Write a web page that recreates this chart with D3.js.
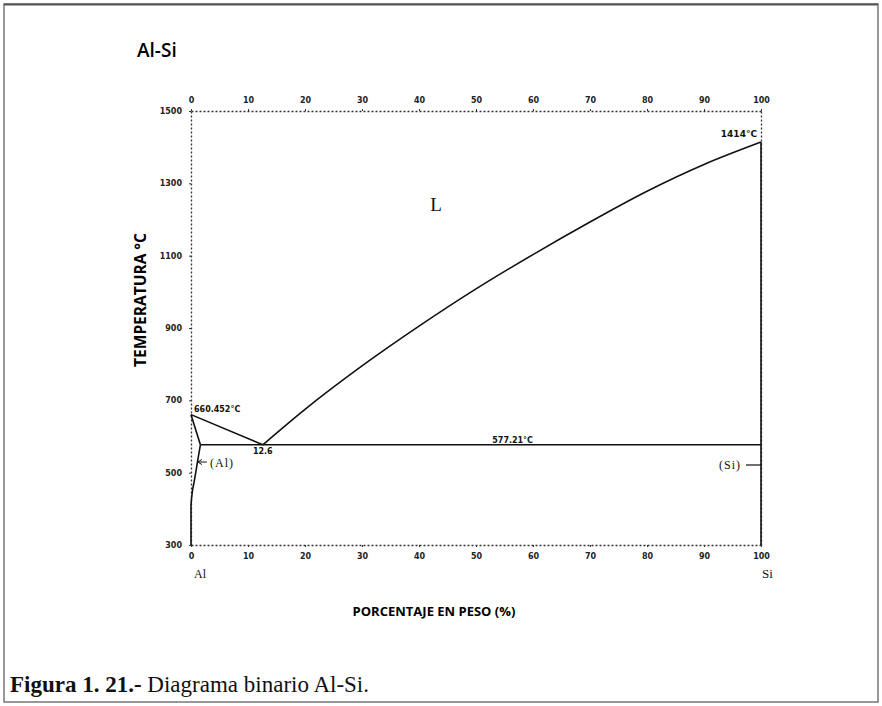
<!DOCTYPE html>
<html>
<head>
<meta charset="utf-8">
<script src="https://cdn.jsdelivr.net/npm/d3@7"></script>
<style>
body { margin: 0; background: #fff; }
svg { display: block; }
.tk text { font-family: "DejaVu Sans", sans-serif; font-size: 8px; font-weight: bold; fill: #222; }
.lab { font-family: "Liberation Serif", serif; fill: #111; }
</style>
</head>
<body>
<svg width="882" height="706"></svg>
<script>
// Al-Si binary phase diagram
var xTicks = [0, 10, 20, 30, 40, 50, 60, 70, 80, 90, 100];
var yTicks = [300, 500, 700, 900, 1100, 1300, 1500];

// liquidus, Si side (wt% Si, degC)
var liquidusSi = [[12.6, 577], [20, 675], [30, 795], [40, 905], [50, 1008],
	[60, 1103], [70, 1193], [80, 1278], [90, 1352], [100, 1414]];
// liquidus, Al side
var liquidusAl = [[0, 660.452], [12.6, 577]];
// solidus of (Al)
var solidusAl = [[0, 660.452], [1.65, 577]];
// solvus of (Al)
var solvusAl = [[1.65, 577], [1.3, 545], [0.9, 507], [0.5, 470], [0.3, 455], [0.1, 430], [0, 410], [0, 300]];
// eutectic isotherm
var eutectic = [[1.65, 577], [100, 577]];
// pure Si line
var siLine = [[100, 1414], [100, 300]];

var notes = [
	{ text: '1414°C', x: 100, t: 1414, dx: -4, dy: -5, anchor: 'end', size: 9 },
	{ text: '660.452°C', x: 0, t: 660.452, dx: 3, dy: -3, anchor: 'start', size: 8 },
	{ text: '12.6', x: 12.6, t: 577, dx: 0, dy: 9, anchor: 'middle', size: 8 },
	{ text: '577.21°C', x: 60, t: 577, dx: 0, dy: -2, anchor: 'end', size: 8 }
];

var svg = d3.select('svg');

// frame
svg.append('rect')
	.attr('x', 4).attr('y', 4).attr('width', 874).attr('height', 698)
	.style('fill', 'none').style('stroke', '#777').style('stroke-width', 1.5);
svg.append('line')
	.attr('x1', 4).attr('x2', 878).attr('y1', 4.5).attr('y2', 4.5)
	.style('stroke', '#555').style('stroke-width', 2);

var x = d3.scaleLinear().domain([0, 100]).range([191, 761]);
var y = d3.scaleLinear().domain([300, 1500]).range([545, 111]);

function dottedAxis(g) {
	g.select('.domain').style('stroke', '#333').style('stroke-width', 1.3).style('stroke-dasharray', '2,2');
	g.selectAll('.tick line').style('stroke', '#333');
}

svg.append('g').attr('class', 'tk')
	.attr('transform', 'translate(0,111)')
	.call(d3.axisTop(x).tickValues(xTicks).tickSize(2).tickSizeOuter(0).tickPadding(6))
	.call(dottedAxis);
svg.append('g').attr('class', 'tk')
	.attr('transform', 'translate(0,545)')
	.call(d3.axisBottom(x).tickValues(xTicks).tickSize(2).tickSizeOuter(0).tickPadding(6))
	.call(dottedAxis);
svg.append('g').attr('class', 'tk')
	.attr('transform', 'translate(191,0)')
	.call(d3.axisLeft(y).tickValues(yTicks).tickFormat(d3.format('d')).tickSize(2).tickSizeOuter(0).tickPadding(7))
	.call(dottedAxis);
svg.append('g').attr('class', 'tk')
	.attr('transform', 'translate(761,0)')
	.call(d3.axisRight(y).tickValues([]).tickSize(0).tickSizeOuter(0))
	.call(dottedAxis);

var line = d3.line().x(d => x(d[0])).y(d => y(d[1]));
var curve = d3.line().x(d => x(d[0])).y(d => y(d[1])).curve(d3.curveMonotoneX);

svg.append('path').datum(liquidusSi).attr('d', curve);
[liquidusAl, solidusAl, solvusAl, eutectic, siLine].forEach(function(d) {
	svg.append('path').datum(d).attr('d', line);
});
svg.selectAll('path:not(.domain)')
	.style('fill', 'none').style('stroke', '#111').style('stroke-width', 1.6);

// point annotations
svg.selectAll('.note')
	.data(notes)
	.enter().append('text')
	.attr('class', 'note')
	.attr('x', d => x(d.x) + d.dx)
	.attr('y', d => y(d.t) + d.dy)
	.attr('text-anchor', d => d.anchor)
	.style('font-family', '"DejaVu Sans", sans-serif')
	.style('font-weight', 'bold')
	.style('font-size', d => d.size + 'px')
	.style('fill', '#111')
	.text(d => d.text);

// phase labels
svg.append('text').attr('class', 'lab')
	.attr('x', x(43)).attr('y', 211).attr('text-anchor', 'middle')
	.style('font-size', '19px').text('L');
svg.append('text').attr('class', 'lab')
	.attr('x', 210).attr('y', 467).style('font-size', '12px').style('letter-spacing', '1px').text('(Al)');
var ax = x(1.2);
svg.append('path')
	.attr('d', 'M' + ax + ',462H' + (ax + 9) + 'M' + ax + ',462l4,-2.5M' + ax + ',462l4,2.5')
	.style('fill', 'none').style('stroke', '#111').style('stroke-width', 1);
svg.append('text').attr('class', 'lab')
	.attr('x', 741).attr('y', 469).attr('text-anchor', 'end').style('font-size', '12px').style('letter-spacing', '1px').text('(Si)');
svg.append('path')
	.attr('d', 'M' + (x(100) - 15) + ',465H' + x(100))
	.style('fill', 'none').style('stroke', '#111').style('stroke-width', 1.2);

svg.append('text').attr('class', 'lab')
	.attr('x', x(0) + 3).attr('y', 578).style('font-size', '12px').text('Al');
svg.append('text').attr('class', 'lab')
	.attr('x', x(100) + 1).attr('y', 578).style('font-size', '13px').text('Si');

// titles
svg.append('text')
	.attr('x', 137).attr('y', 57)
	.style('font-family', '"Open Sans", sans-serif').style('font-weight', 600).style('font-size', '19px')
	.text('Al-Si');
svg.append('text')
	.attr('transform', 'translate(146,300) rotate(-90)')
	.attr('text-anchor', 'middle')
	.style('font-family', '"Open Sans", sans-serif').style('font-weight', 'bold').style('font-size', '15.5px')
	.text('TEMPERATURA °C');
svg.append('text')
	.attr('x', 434).attr('y', 616).attr('text-anchor', 'middle')
	.style('font-family', '"Open Sans", sans-serif').style('font-weight', 'bold').style('font-size', '13px')
	.text('PORCENTAJE EN PESO (%)');

var cap = svg.append('text')
	.attr('x', 10).attr('y', 692)
	.style('font-family', '"Liberation Serif", serif').style('font-size', '23px').style('fill', '#111');
cap.append('tspan').style('font-weight', 'bold').text('Figura 1. 21.-');
cap.append('tspan').text(' Diagrama binario Al-Si.');
</script>
</body>
</html>
